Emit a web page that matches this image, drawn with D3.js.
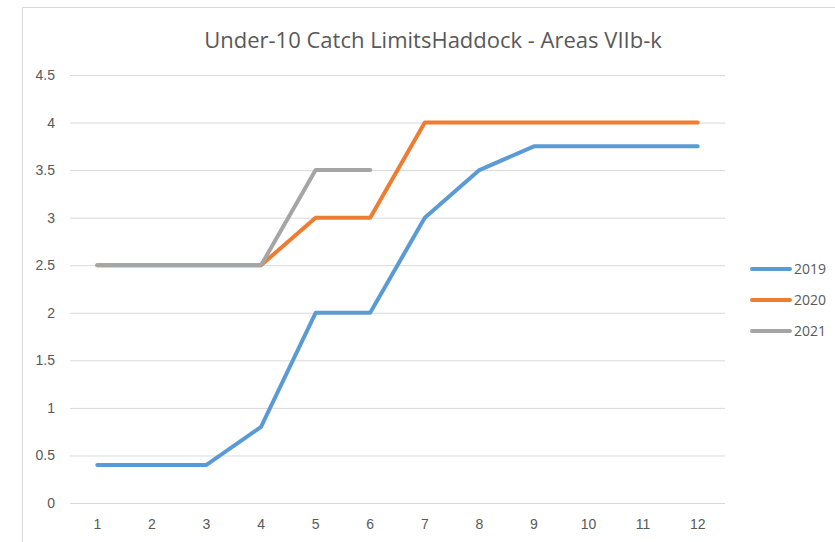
<!DOCTYPE html>
<html lang="en">
<head>
  <meta charset="UTF-8">
  <title>Under-10 Catch Limits Haddock</title>
  <script src="https://d3js.org/d3.v7.min.js"></script>
  <style>
    body { margin: 0; font-family: "Open Sans", Arial, sans-serif; background: #fff; }
    .grid line { stroke: #d9d9d9; stroke-width: 1; }
    .tick text { fill: #595959; font-size: 14px; }
    .series { fill: none; stroke-width: 4; stroke-linejoin: round; stroke-linecap: round; }
    .title { font-size: 22px; fill: #595959; text-anchor: middle; }
    .legend text { fill: #595959; font-size: 14px; }
  </style>
</head>
<body>
<script>
  // Data
  var months = [1, 2, 3, 4, 5, 6, 7, 8, 9, 10, 11, 12];
  var values2019 = [0.4, 0.4, 0.4, 0.8, 2, 2, 3, 3.5, 3.75, 3.75, 3.75, 3.75];
  var values2020 = [2.5, 2.5, 2.5, 2.5, 3, 3, 4, 4, 4, 4, 4, 4];
  var values2021 = [2.5, 2.5, 2.5, 2.5, 3.5, 3.5];
  var yTicks = [0, 0.5, 1, 1.5, 2, 2.5, 3, 3.5, 4, 4.5];

  var series = [
    { name: "2019", values: values2019, color: "#5b9bd5" },
    { name: "2020", values: values2020, color: "#ed7d31" },
    { name: "2021", values: values2021, color: "#a5a5a5" }
  ];

  var W = 835, H = 542;
  var plot = { left: 70, right: 725, top: 75, bottom: 503 };

  var svg = d3.select("body").append("svg")
    .attr("width", W).attr("height", H);

  // chart border
  svg.append("rect")
    .attr("x", 22.5).attr("y", 7.5)
    .attr("width", W).attr("height", H)
    .attr("fill", "none").attr("stroke", "#d9d9d9");

  var x = d3.scaleBand().domain(months).range([plot.left, plot.right]);
  var y = d3.scaleLinear().domain([0, 4.5]).range([plot.bottom, plot.top]);

  // title
  svg.append("text")
    .attr("class", "title")
    .attr("x", 433).attr("y", 48)
    .text("Under-10 Catch LimitsHaddock - Areas VIIb-k");

  // y grid + labels
  var yAxis = svg.append("g")
    .attr("class", "grid")
    .attr("transform", `translate(${plot.left},0)`)
    .call(d3.axisLeft(y).tickValues(yTicks).tickSize(-(plot.right - plot.left)).tickPadding(15).tickFormat(d3.format("")));
  yAxis.select(".domain").remove();

  // x labels
  var xAxis = svg.append("g")
    .attr("class", "grid")
    .attr("transform", `translate(0,${plot.bottom})`)
    .call(d3.axisBottom(x).tickSize(0).tickPadding(16));
  xAxis.select(".domain").remove();

  // lines
  var line = d3.line()
    .x((d, i) => x(months[i]) + x.bandwidth() / 2)
    .y(d => y(d));

  svg.selectAll(".series")
    .data(series)
    .enter().append("path")
    .attr("class", "series")
    .attr("stroke", d => d.color)
    .attr("d", d => line(d.values));

  // legend
  var legend = svg.append("g").attr("class", "legend");
  var item = legend.selectAll("g")
    .data(series)
    .enter().append("g")
    .attr("transform", (d, i) => `translate(752,${269 + i * 31})`);
  item.append("line")
    .attr("x1", 0).attr("x2", 38)
    .attr("stroke", d => d.color)
    .attr("stroke-width", 4)
    .attr("stroke-linecap", "round");
  item.append("text")
    .attr("x", 42).attr("dy", "0.35em")
    .text(d => d.name);
</script>
</body>
</html>
